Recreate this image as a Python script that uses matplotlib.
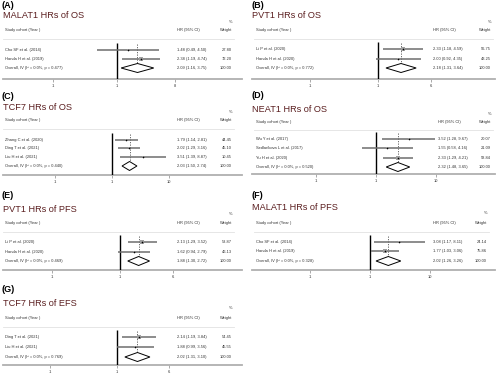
import matplotlib
matplotlib.use("Agg")
import matplotlib.pyplot as plt
import matplotlib.transforms as mtransforms
import matplotlib.ticker as mticker
import numpy as np

plt.rcParams['font.family'] = ['Liberation Sans', 'DejaVu Sans']

# ---------------- data ----------------
titles = ["MALAT1 HRs of OS", "PVT1 HRs of OS", "TCF7 HRs of OS", "NEAT1 HRs of OS",
          "PVT1 HRs of PFS", "MALAT1 HRs of PFS", "TCF7 HRs of EFS"]
letters = ["(A)", "(B)", "(C)", "(D)", "(E)", "(F)", "(G)"]

studies_A = ["Cho SF et al. (2014)", "Handa H et al. (2019)"]
hr_A = [1.48, 2.38]; lo_A = [0.49, 1.19]; hi_A = [4.50, 4.74]; w_A = [27.80, 72.20]
ov_A = (2.09, 1.16, 3.75); p_A = "0.477"; ticks_A = [0.1, 1, 8]

studies_B = ["Li P et al. (2020)", "Handa H et al. (2020)"]
hr_B = [2.33, 2.00]; lo_B = [1.18, 0.92]; hi_B = [4.59, 4.35]; w_B = [56.75, 43.25]
ov_B = (2.18, 1.31, 3.64); p_B = "0.772"; ticks_B = [0.1, 1, 6]

studies_C = ["Zhang C et al. (2020)", "Ding T et al. (2021)", "Liu H et al. (2021)"]
hr_C = [1.79, 2.02, 3.51]; lo_C = [1.14, 1.29, 1.39]; hi_C = [2.81, 3.16, 8.87]; w_C = [44.45, 45.10, 10.45]
ov_C = (2.03, 1.50, 2.74); p_C = "0.440"; ticks_C = [0.1, 1, 10]

studies_D = ["Wu Y et al. (2017)", "Sedlarikova L et al. (2017)", "Yu H et al. (2020)"]
hr_D = [3.52, 1.55, 2.33]; lo_D = [1.28, 0.58, 1.29]; hi_D = [9.67, 4.16, 4.21]; w_D = [20.07, 21.09, 58.84]
ov_D = (2.32, 1.48, 3.65); p_D = "0.520"; ticks_D = [0.1, 1, 10]

studies_E = ["Li P et al. (2020)", "Handa H et al. (2020)"]
hr_E = [2.13, 1.62]; lo_E = [1.29, 0.94]; hi_E = [3.52, 2.79]; w_E = [53.87, 46.13]
ov_E = (1.88, 1.30, 2.72); p_E = "0.469"; ticks_E = [0.1, 1, 6]

studies_F = ["Cho SF et al. (2014)", "Handa H et al. (2019)"]
hr_F = [3.08, 1.77]; lo_F = [1.17, 1.03]; hi_F = [8.11, 3.06]; w_F = [24.14, 75.86]
ov_F = (2.02, 1.26, 3.26); p_F = "0.328"; ticks_F = [0.1, 1, 10]

studies_G = ["Ding T et al. (2021)", "Liu H et al. (2021)"]
hr_G = [2.14, 1.88]; lo_G = [1.19, 0.99]; hi_G = [3.84, 3.56]; w_G = [54.45, 45.55]
ov_G = (2.02, 1.31, 3.10); p_G = "0.769"; ticks_G = [0.1, 1, 6]

data = [
    (studies_A, hr_A, lo_A, hi_A, w_A, ov_A, p_A, ticks_A),
    (studies_B, hr_B, lo_B, hi_B, w_B, ov_B, p_B, ticks_B),
    (studies_C, hr_C, lo_C, hi_C, w_C, ov_C, p_C, ticks_C),
    (studies_D, hr_D, lo_D, hi_D, w_D, ov_D, p_D, ticks_D),
    (studies_E, hr_E, lo_E, hi_E, w_E, ov_E, p_E, ticks_E),
    (studies_F, hr_F, lo_F, hi_F, w_F, ov_F, p_F, ticks_F),
    (studies_G, hr_G, lo_G, hi_G, w_G, ov_G, p_G, ticks_G),
]

# ---------------- layout (pixels) ----------------
W, H = 500, 377
layout = [
    dict(x0=3, x1=242, top=0, ly=5, ty=16, py=22, hy=30, rows=[50, 59, 68], ay=79, nx=117, ppd=64, tx=5, hx=177, wx=232),
    dict(x0=252, x1=495, top=0, ly=5, ty=16, py=22, hy=30, rows=[49, 59, 68], ay=79, nx=378, ppd=68, tx=256, hx=433, wx=491),
    dict(x0=3, x1=242, top=90, ly=96, ty=107, py=112, hy=120, rows=[140, 148, 157, 166], ay=175, nx=112, ppd=57, tx=5, hx=177, wx=232),
    dict(x0=252, x1=495, top=90, ly=96, ty=109, py=114, hy=122, rows=[139, 148, 158, 167], ay=174, nx=376, ppd=60, tx=256, hx=438, wx=491),
    dict(x0=3, x1=242, top=188, ly=195, ty=209, py=214, hy=223, rows=[242, 252, 261], ay=270, nx=120, ppd=68, tx=5, hx=177, wx=232),
    dict(x0=252, x1=495, top=188, ly=195, ty=208, py=213, hy=223, rows=[242, 251, 261], ay=270, nx=370, ppd=60, tx=256, hx=433, wx=487),
    dict(x0=3, x1=242, top=283, ly=290, ty=303, py=308, hy=318, rows=[337, 347, 357], ay=365, nx=117, ppd=67, tx=5, hx=177, wx=232),
]

title_color = '#5b1f20'
fs = 2.9
tc = '#333333'

fig = plt.figure(figsize=(W / 100, H / 100), dpi=100)

for k, (d, L) in enumerate(zip(data, layout)):
    studies, hr, lo, hi, w, ov, pval, ticks = d
    x0, x1, top, ay = L['x0'], L['x1'], L['top'], L['ay']
    ax = fig.add_axes([x0 / W, 1 - ay / H, (x1 - x0) / W, (ay - top) / H])
    ax.set_xscale('log')
    left = 10 ** ((x0 - L['nx']) / L['ppd'])
    right = 10 ** ((x1 - L['nx']) / L['ppd'])
    ax.set_xlim(left, right)
    ax.set_ylim(ay, top)
    for s in ['top', 'left', 'right']:
        ax.spines[s].set_visible(False)
    ax.spines['bottom'].set_color('#b0b0b0')
    ax.spines['bottom'].set_linewidth(1.3)
    ax.set_yticks([])
    ax.xaxis.set_major_locator(mticker.FixedLocator(ticks))
    ax.xaxis.set_minor_locator(mticker.NullLocator())
    ax.set_xticklabels([('%g' % t).replace('0.', '.') for t in ticks])
    ax.tick_params(axis='x', length=2, width=0.5, color='#888888', labelsize=fs, pad=1.5, labelcolor=tc)
    ax.patch.set_alpha(0)

    tr = mtransforms.blended_transform_factory(ax.transAxes, ax.transData)

    def fx(px, x0=x0, x1=x1):
        return (px - x0) / (x1 - x0)

    ax.text(fx(x0 - 1), L['ly'], letters[k], transform=tr, fontsize=6.5, fontweight='bold',
            va='center', ha='left', clip_on=False)
    ax.text(fx(x0), L['ty'], titles[k], transform=tr, fontsize=6.6, color=title_color,
            va='center', ha='left', clip_on=False)
    ax.text(fx(L['wx']), L['py'], '%', transform=tr, fontsize=fs, color=tc, va='center', ha='right')
    ax.text(fx(L['tx']), L['hy'], 'Study cohort (Year )', transform=tr, fontsize=fs, color=tc, va='center')
    ax.text(fx(L['hx']), L['hy'], 'HR (95% CI)', transform=tr, fontsize=fs, color=tc, va='center')
    ax.text(fx(L['wx']), L['hy'], 'Weight', transform=tr, fontsize=fs, color=tc, va='center', ha='right')
    sep_y = (L['hy'] + L['rows'][0]) / 2 - 1
    ax.plot([fx(L['tx'] - 2), fx(L['wx'] + 2)], [sep_y, sep_y], transform=tr, color='#e2e2e2', lw=0.6)

    rows = L['rows']
    ax.vlines(1, rows[0] - 7, ay, colors='black', lw=1.0, zorder=3)
    ax.vlines(ov[0], rows[0] - 6, rows[-1] - 4.5, colors='#555555', lw=0.6,
              linestyles=(0, (1.5, 1.5)), zorder=3)

    for i, name in enumerate(studies):
        y = rows[i]
        ax.hlines(y, lo[i], hi[i], colors='#6e6e6e', lw=1.1, zorder=3)
        ms = 0.8 + 2.0 * np.sqrt(w[i] / 100)
        ax.plot([hr[i]], [y], marker='s', ms=ms, mfc='#a0a0a0', mec='#a0a0a0', mew=0, ls='none', zorder=4)
        ax.plot([hr[i]], [y], marker='o', ms=1.2, color='black', mew=0, ls='none', zorder=5)
        ax.text(fx(L['tx']), y, name, transform=tr, fontsize=fs, color=tc, va='center')
        ax.text(fx(L['hx']), y, '%.2f (%.2f, %.2f)' % (hr[i], lo[i], hi[i]), transform=tr,
                fontsize=fs, color=tc, va='center')
        ax.text(fx(L['wx']), y, '%.2f' % w[i], transform=tr, fontsize=fs, color=tc,
                va='center', ha='right')

    y = rows[-1]
    est, l, h = ov
    hh = 4.5
    ax.fill([l, est, h, est, l], [y, y - hh, y, y + hh, y], facecolor='white', edgecolor='black',
            lw=0.7, zorder=4)
    ax.text(fx(L['tx']), y, 'Overall, IV (I\u00b2 = 0.0%%, p = %s)' % pval, transform=tr,
            fontsize=fs, color=tc, va='center')
    ax.text(fx(L['hx']), y, '%.2f (%.2f, %.2f)' % (est, l, h), transform=tr,
            fontsize=fs, color=tc, va='center')
    ax.text(fx(L['wx']), y, '100.00', transform=tr, fontsize=fs, color=tc,
            va='center', ha='right')

fig.savefig('out.png', dpi=100, facecolor='white')
